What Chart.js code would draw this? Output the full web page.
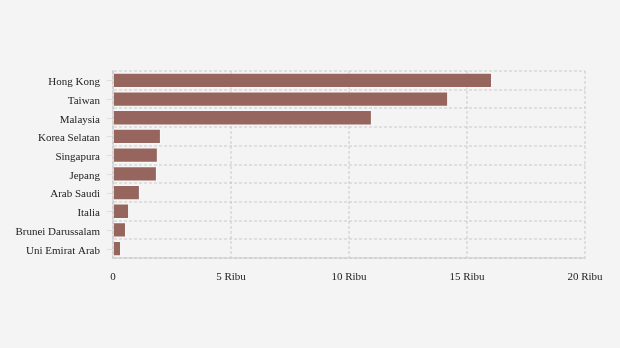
<!DOCTYPE html>
<html>
<head>
<meta charset="utf-8">
<script src="https://cdn.jsdelivr.net/npm/chart.js@4/dist/chart.umd.min.js"></script>
<style>
  html, body { margin: 0; padding: 0; background: #f4f4f4; }
  #wrap { width: 620px; height: 348px; }
</style>
</head>
<body>
<div id="wrap"><canvas id="chart"></canvas></div>
<script>
// Negara asal dan nilai (orang)
const countries = ["Hong Kong", "Taiwan", "Malaysia", "Korea Selatan", "Singapura",
    "Jepang", "Arab Saudi", "Italia", "Brunei Darussalam", "Uni Emirat Arab"];
const values = [16060, 14200, 10970, 2030, 1900, 1860, 1140, 680, 550, 340];
const xTicks = [0, 5000, 10000, 15000, 20000];

const gridColor = "rgba(175,175,175,0.3)";
const font = { family: "'Liberation Serif', 'Times New Roman', serif", size: 11 };

// small tick marks beside the country names
const yTickMarks = {
    id: "yTickMarks",
    afterDraw(chart) {
        const y = chart.scales.y, ctx = chart.ctx;
        ctx.save();
        ctx.strokeStyle = "#dedede";
        ctx.lineWidth = 1;
        y.ticks.forEach((t, i) => {
            const py = Math.round(y.getPixelForTick(i)) + 0.5;
            ctx.beginPath();
            ctx.moveTo(y.right - 6, py);
            ctx.lineTo(y.right - 1, py);
            ctx.stroke();
        });
        ctx.restore();
    }
};

new Chart(document.getElementById("chart"), {
    type: "bar",
    data: {
        labels: countries,
        datasets: [{
            data: values,
            backgroundColor: "#96665e",
            borderColor: "rgba(255,255,255,0.35)",
            borderWidth: 1,
            barPercentage: 0.82,
            categoryPercentage: 1
        }]
    },
    options: {
        indexAxis: "y",
        responsive: true,
        maintainAspectRatio: false,
        animation: false,
        layout: { padding: { left: 0, right: 35, top: 71, bottom: 60 } },
        plugins: { legend: { display: false }, tooltip: { enabled: false } },
        scales: {
            x: {
                min: 0,
                max: 20000,
                z: 1,
                afterBuildTicks: axis => { axis.ticks = xTicks.map(v => ({ value: v })); },
                afterFit: axis => { axis.height = 30; },
                grid: { color: gridColor, drawTicks: false, lineWidth: 2 },
                border: { display: true, color: gridColor, width: 2, dash: [3, 2] },
                ticks: {
                    color: "#222",
                    font: font,
                    padding: 13,
                    maxRotation: 0,
                    callback: v => v === 0 ? "0" : (v / 1000) + " Ribu"
                }
            },
            y: {
                z: 1,
                afterFit: axis => { axis.width = 113; },
                grid: { color: gridColor, drawTicks: false, offset: true, lineWidth: 2 },
                border: { display: true, color: gridColor, width: 2, dash: [3, 2] },
                ticks: { color: "#222", font: font, padding: 13, autoSkip: false, labelOffset: 2 }
            }
        }
    },
    plugins: [{
        id: "dashGrid",
        beforeDraw(chart) {
            ["x", "y"].forEach(k => { chart.scales[k].options.border.dash = [3, 2]; });
        }
    }, yTickMarks]
});
</script>
</body>
</html>
